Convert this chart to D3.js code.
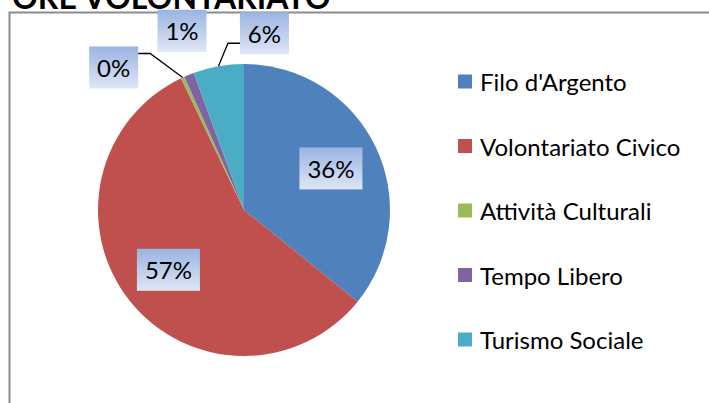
<!DOCTYPE html>
<html>
<head>
<meta charset="utf-8">
<script src="https://cdn.jsdelivr.net/npm/d3@7"></script>
<style>
  body { margin: 0; background: #fff; }
  svg { display: block; }
</style>
</head>
<body>
<div id="chart"></div>
<script>
// data
let categories = ["Filo d'Argento", "Volontariato Civico", "Attività Culturali", "Tempo Libero", "Turismo Sociale"];
let shares = [35.8, 57.1, 0.4, 1.1, 5.6];
let sliceColors = ["#4F81BD", "#C0504D", "#9BBB59", "#8064A2", "#4BACC6"];
let titleText = "ORE VOLONTARIATO";

let width = 709,
    height = 403;

let cx = 244, cy = 210, radius = 146;

let svg = d3.select("#chart")
    .append("svg")
    .attr("width", width)
    .attr("height", height);

// gradient used by the data label boxes
let grad = svg.append("defs")
    .append("linearGradient")
    .attr("id", "lblGrad")
    .attr("x1", 0).attr("y1", 0)
    .attr("x2", 0).attr("y2", 1);
grad.append("stop").attr("offset", "0%").attr("stop-color", "#9AB4E2");
grad.append("stop").attr("offset", "100%").attr("stop-color", "#DFE6F5");

// title (the page cuts it at the top, as in the original)
svg.append("text")
    .attr("x", 12)
    .attr("y", 9)
    .style("font", "bold 32px Lato, 'Open Sans', sans-serif")
    .style("fill", "#000")
    .text(titleText);

// chart frame
svg.append("rect")
    .attr("x", 9.5)
    .attr("y", 12.5)
    .attr("width", 760)
    .attr("height", 420)
    .style("fill", "none")
    .style("stroke", "#8c8c8c")
    .style("stroke-width", 2);

// ---------------------------//
//       PIE                  //
// ---------------------------//
let pie = d3.pie().sort(null).value(d => d);
let arcs = pie(shares);

let arc = d3.arc().innerRadius(0).outerRadius(radius);
let innerLabelArc = d3.arc().innerRadius(radius * 0.66).outerRadius(radius * 0.66);

let g = svg.append("g")
    .attr("transform", "translate(" + cx + "," + cy + ")");

g.selectAll("path.slice")
    .data(arcs)
    .enter()
    .append("path")
    .attr("class", "slice")
    .attr("d", arc)
    .style("fill", (d, i) => sliceColors[i]);

// ---------------------------//
//       DATA LABELS          //
// ---------------------------//
let pctText = v => Math.round(v) + "%";
let boxH = 42;
let labelFont = "24px Lato, 'Open Sans', sans-serif";

// small slices get their label outside, with a box offset (from the slice tip) and a leader side
let outside = {
    2: { dx: -69, dy: -10, leader: "right" },
    3: { dx: -7, dy: -44, leader: null },
    4: { dx: 46, dy: -33, leader: "left" }
};

arcs.forEach(function (d, i) {
    let txt = pctText(shares[i]);
    let boxW = txt.length > 2 ? 63 : 49;
    let mid = (d.startAngle + d.endAngle) / 2;
    let tip = [Math.sin(mid) * radius, -Math.cos(mid) * radius];
    let bx, by;
    if (outside[i]) {
        bx = tip[0] + outside[i].dx;
        by = tip[1] + outside[i].dy;
    } else {
        let c = innerLabelArc.centroid(d);
        bx = c[0];
        by = c[1];
    }
    let lg = g.append("g");

    if (outside[i] && outside[i].leader) {
        let sideX = outside[i].leader === "right" ? bx + boxW / 2 : bx - boxW / 2;
        let elbowX = outside[i].leader === "right" ? sideX + 12 : sideX - 12;
        let ly = outside[i].leader === "right" ? by - 14 : by + 10;
        lg.append("path")
            .attr("d", d3.line()([[sideX, ly], [elbowX, ly], tip]))
            .style("fill", "none")
            .style("stroke", "#000")
            .style("stroke-width", 1.3);
    }

    lg.append("rect")
        .attr("x", bx - boxW / 2)
        .attr("y", by - boxH / 2)
        .attr("width", boxW)
        .attr("height", boxH)
        .style("fill", "url(#lblGrad)");

    lg.append("text")
        .attr("x", bx)
        .attr("y", by)
        .attr("text-anchor", "middle")
        .attr("dominant-baseline", "central")
        .style("font", labelFont)
        .style("fill", "#000")
        .text(txt);
});

// ---------------------------//
//       LEGEND               //
// ---------------------------//
let legY = d3.scalePoint()
    .domain(categories)
    .range([81.5, 339.5]);

let leg = svg.append("g");

leg.selectAll("rect")
    .data(categories)
    .enter()
    .append("rect")
    .attr("x", 458)
    .attr("y", d => legY(d) - 7)
    .attr("width", 14)
    .attr("height", 14)
    .style("fill", (d, i) => sliceColors[i]);

leg.selectAll("text")
    .data(categories)
    .enter()
    .append("text")
    .attr("x", 480)
    .attr("y", d => legY(d))
    .attr("dominant-baseline", "central")
    .style("font", "24px Lato, 'Open Sans', sans-serif")
    .style("fill", "#000")
    .text(d => d);
</script>
</body>
</html>
